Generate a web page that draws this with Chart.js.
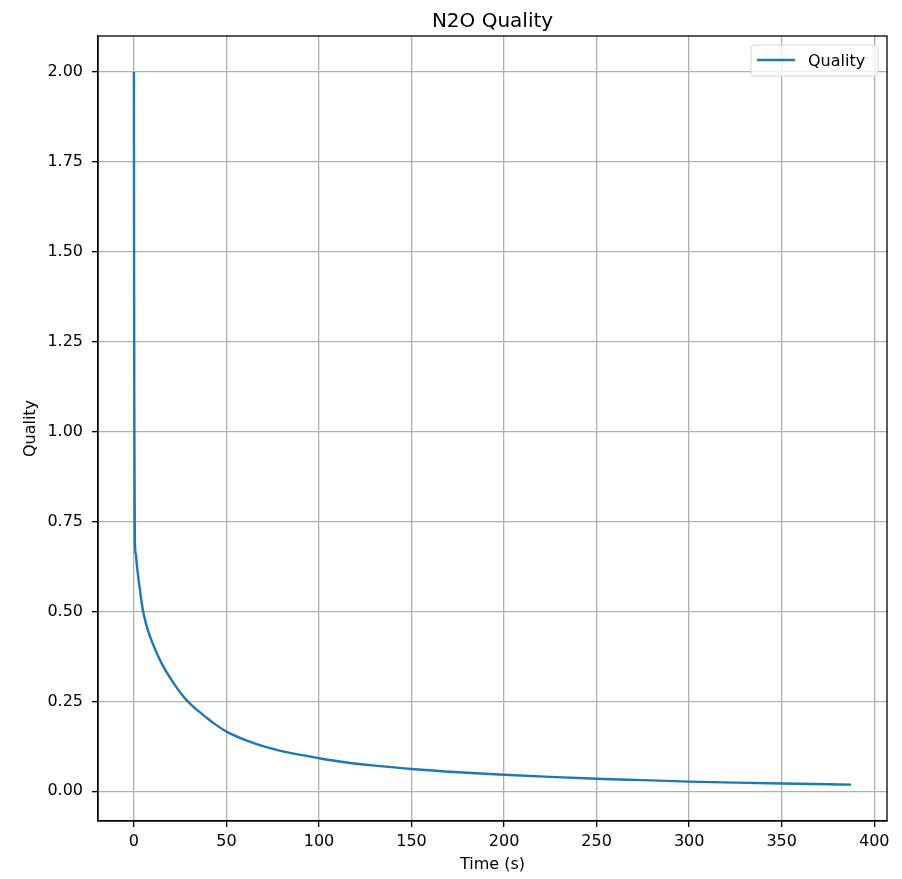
<!DOCTYPE html>
<html>
<head>
<meta charset="utf-8">
<script src="https://cdn.jsdelivr.net/npm/chart.js@4"></script>
<style>
  html, body { margin: 0; padding: 0; background: #fff; }
  #wrap { width: 902px; height: 879px; }
</style>
</head>
<body>
<div id="wrap"><canvas id="chart" width="902" height="879"></canvas></div>
<script>
// values
const timeS = [0, 0.1, 0.25, 0.5, 1, 1.5, 2, 3, 4, 5, 6.5, 8, 10, 13, 16, 19, 23, 28, 33, 38.7, 44, 50, 60, 72, 85, 100, 115, 133, 150, 175, 200, 225, 250, 275, 300, 325, 350, 375, 387.5];
const quality = [2.0, 1.4, 1.0, 0.70, 0.66, 0.635, 0.61, 0.57, 0.532, 0.5, 0.467, 0.441, 0.413, 0.377, 0.346, 0.32, 0.289, 0.256, 0.231, 0.207, 0.186, 0.166, 0.143, 0.122, 0.106, 0.092, 0.080, 0.070, 0.062, 0.053, 0.046, 0.040, 0.035, 0.031, 0.027, 0.024, 0.0215, 0.0195, 0.0185];
const xTicks = [0, 50, 100, 150, 200, 250, 300, 350, 400];
const yTicks = [0, 0.25, 0.5, 0.75, 1.0, 1.25, 1.5, 1.75, 2.0];

const FONT = "'DejaVu Sans', sans-serif";
const BLUE = "#1f77b4";
const GRID = "#b0b0b0";

// title, axis labels, frame and legend drawn like matplotlib
const decor = {
  id: "decor",
  afterDraw(chart) {
    const ctx = chart.ctx;
    const a = chart.chartArea;
    ctx.save();

    // frame
    ctx.strokeStyle = "#000";
    ctx.lineWidth = 1.3;
    ctx.strokeRect(a.left, a.top, a.right - a.left, a.bottom - a.top);

    ctx.fillStyle = "#000";
    ctx.textAlign = "center";
    ctx.textBaseline = "alphabetic";
    ctx.font = "20px " + FONT;
    ctx.fillText("N2O Quality", (a.left + a.right) / 2, 27);

    ctx.font = "16px " + FONT;
    ctx.fillText("Time (s)", (a.left + a.right) / 2, 869);

    ctx.save();
    ctx.translate(35, (a.top + a.bottom) / 2);
    ctx.rotate(-Math.PI / 2);
    ctx.fillText("Quality", 0, 0);
    ctx.restore();

    // legend
    const ds = chart.data.datasets[0];
    const bx = a.right - 136, by = a.top + 9, bw = 127, bh = 31, r = 4;
    ctx.beginPath();
    ctx.moveTo(bx + r, by);
    ctx.arcTo(bx + bw, by, bx + bw, by + bh, r);
    ctx.arcTo(bx + bw, by + bh, bx, by + bh, r);
    ctx.arcTo(bx, by + bh, bx, by, r);
    ctx.arcTo(bx, by, bx + bw, by, r);
    ctx.closePath();
    ctx.fillStyle = "rgba(255,255,255,0.8)";
    ctx.fill();
    ctx.strokeStyle = "#d6d6d6";
    ctx.lineWidth = 1;
    ctx.stroke();

    ctx.strokeStyle = ds.borderColor;
    ctx.lineWidth = 2.4;
    ctx.beginPath();
    ctx.moveTo(bx + 6, by + 15);
    ctx.lineTo(bx + 44, by + 15);
    ctx.stroke();

    ctx.fillStyle = "#000";
    ctx.textAlign = "left";
    ctx.font = "16px " + FONT;
    ctx.fillText(ds.label, bx + 57, by + 21);

    ctx.restore();
  }
};

const chart = new Chart(document.getElementById("chart"), {
  type: "line",
  data: {
    datasets: [{
      label: "Quality",
      data: timeS.map((t, i) => ({ x: t, y: quality[i] })),
      borderColor: BLUE,
      borderWidth: 2.4,
      pointRadius: 0,
      fill: false,
      cubicInterpolationMode: "monotone"
    }]
  },
  options: {
    responsive: false,
    animation: false,
    layout: { padding: { left: 0, top: 36, right: 15, bottom: 0 } },
    plugins: {
      legend: { display: false },
      title: { display: false },
      tooltip: { enabled: false }
    },
    scales: {
      x: {
        type: "linear",
        min: -19.4,
        max: 406.9,
        afterBuildTicks: (scale) => { scale.ticks = xTicks.map(v => ({ value: v })); },
        afterFit: (scale) => { scale.height = 58; },
        ticks: {
          color: "#000",
          font: { family: FONT, size: 16 },
          padding: 5,
          maxRotation: 0,
          autoSkip: false,
          callback: (v) => String(v)
        },
        grid: { color: GRID, lineWidth: 1.3, tickLength: 6, tickColor: "#000", tickWidth: 1.3 },
        border: { display: true, color: "#000", width: 1.3 }
      },
      y: {
        type: "linear",
        min: -0.0826,
        max: 2.1,
        afterBuildTicks: (scale) => { scale.ticks = yTicks.map(v => ({ value: v })); },
        afterFit: (scale) => { scale.width = 98; },
        ticks: {
          color: "#000",
          font: { family: FONT, size: 16 },
          padding: 9,
          autoSkip: false,
          callback: (v) => v.toFixed(2)
        },
        grid: { color: GRID, lineWidth: 1.3, tickLength: 6, tickColor: "#000", tickWidth: 1.3 },
        border: { display: true, color: "#000", width: 1.3 }
      }
    }
  },
  plugins: [decor]
});
</script>
</body>
</html>
